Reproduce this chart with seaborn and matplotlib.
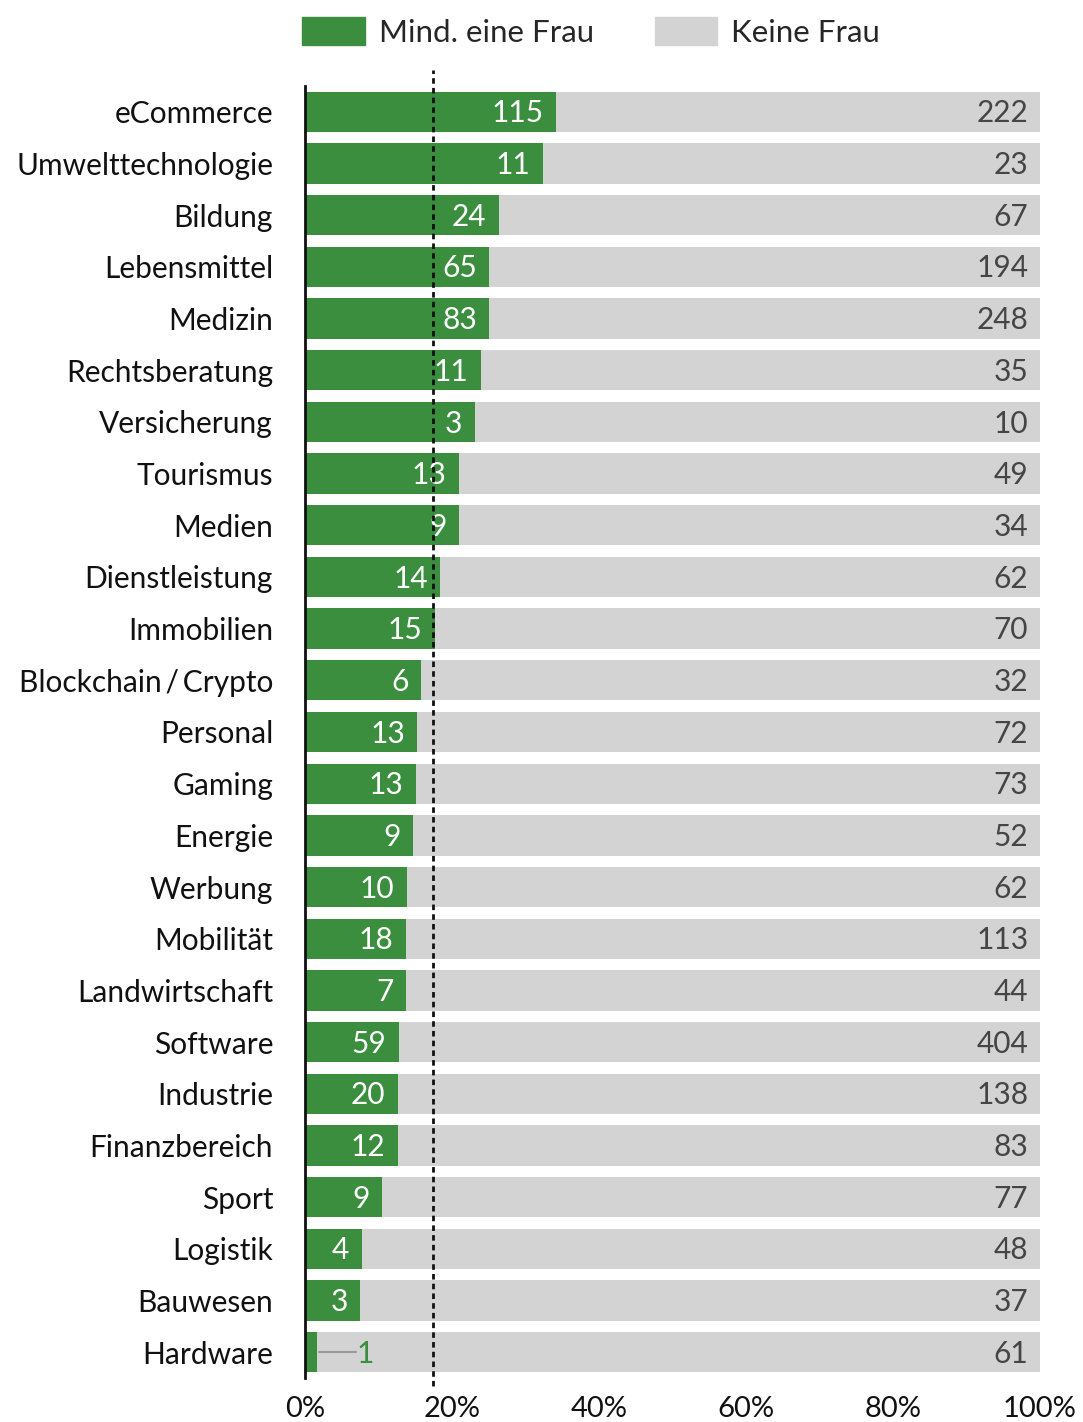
import matplotlib
matplotlib.use("Agg")
import matplotlib.pyplot as plt
import matplotlib.patches as mpatches
import matplotlib.transforms as mtransforms
import numpy as np
import pandas as pd
import seaborn as sns

# Startups per sector: at least one woman among founders vs. none
sectors = ["eCommerce", "Umwelttechnologie", "Bildung", "Lebensmittel", "Medizin",
           "Rechtsberatung", "Versicherung", "Tourismus", "Medien", "Dienstleistung",
           "Immobilien", "Blockchain\u2009/\u2009Crypto", "Personal", "Gaming", "Energie",
           "Werbung", "Mobilität", "Landwirtschaft", "Software", "Industrie",
           "Finanzbereich", "Sport", "Logistik", "Bauwesen", "Hardware"]
mind_eine_frau = [115, 11, 24, 65, 83, 11, 3, 13, 9, 14, 15, 6, 13, 13, 9, 10, 18, 7,
                  59, 20, 12, 9, 4, 3, 1]
keine_frau = [222, 23, 67, 194, 248, 35, 10, 49, 34, 62, 70, 32, 72, 73, 52, 62, 113, 44,
              404, 138, 83, 77, 48, 37, 61]
x_ticks = [0, 20, 40, 60, 80, 100]
x_ticklabels = ["0%", "20%", "40%", "60%", "80%", "100%"]

GREEN = "#3a8e3e"
GREY = "#d3d3d3"
GREY_TEXT = "#454545"

sns.set_theme(style="white")
plt.rcParams["font.family"] = ["Lato", "DejaVu Sans"]

df = pd.DataFrame({"Branche": sectors, "Mind": mind_eine_frau, "Keine": keine_frau})
df["Gesamt"] = df["Mind"] + df["Keine"]
df["Anteil"] = df["Mind"] / df["Gesamt"] * 100
df["Voll"] = 100.0
mean_share = df["Anteil"].mean()

fig = plt.figure(figsize=(10.83, 14.22), dpi=100)
ax = fig.add_axes([305 / 1083, 1 - 1378 / 1422, 735 / 1083, 1292 / 1422])

sns.barplot(data=df, y="Branche", x="Voll", color=GREY, width=0.78, orient="h",
            saturation=1, ax=ax, linewidth=0)
sns.barplot(data=df, y="Branche", x="Anteil", color=GREEN, width=0.78, orient="h",
            saturation=1, ax=ax, linewidth=0)

ax.set_xlim(0, 100)
ax.set_ylim(len(sectors) - 0.5, -0.5)
ax.set_xlabel("")
ax.set_ylabel("")
ax.set_xticks(x_ticks)
ax.set_xticklabels(x_ticklabels)
ax.tick_params(axis="x", length=0, pad=13, labelsize=21, colors="#111111")
ax.tick_params(axis="y", length=0, pad=23, labelsize=21.5, colors="#111111")
for s in ["top", "right", "bottom"]:
    ax.spines[s].set_visible(False)
ax.spines["left"].set_color("#111111")
ax.spines["left"].set_linewidth(2)
ax.spines["left"].set_zorder(5)

# value labels (digits centred on the bar: baseline sits half a digit below centre)
base = 0.205
for i, row in df.iterrows():
    if row["Anteil"] > 5:
        ax.text(row["Anteil"] - 1.7, i + base, f"{row['Mind']}", ha="right",
                va="baseline", color="white", fontsize=21.5, zorder=4)
    else:
        ax.plot([row["Anteil"] + 0.3, row["Anteil"] + 5.3], [i, i], color="#9a9a9a",
                lw=1.5, zorder=4)
        ax.text(row["Anteil"] + 5.4, i + base, f"{row['Mind']}", ha="left",
                va="baseline", color=GREEN, fontsize=21.5, zorder=4)
    ax.text(98.4, i + base, f"{row['Keine']}", ha="right", va="baseline",
            color=GREY_TEXT, fontsize=21.5, zorder=4)

# dashed average line
trans = mtransforms.blended_transform_factory(ax.transData, ax.transAxes)
ax.plot([mean_share, mean_share], [-0.006, 1.0125], transform=trans, color="#111111",
        lw=2, ls=(0, (2, 1.5)), clip_on=False, zorder=6)

# legend
handles = [mpatches.Patch(color=GREEN, label="Mind. eine Frau"),
           mpatches.Patch(color=GREY, label="Keine Frau")]
fig.legend(handles=handles, loc="center left", bbox_to_anchor=(302 / 1083, 1 - 32 / 1422),
           ncol=2, frameon=False, fontsize=22.5, handlelength=2.0, handleheight=1.0,
           handletextpad=0.45, columnspacing=1.95, borderpad=0, borderaxespad=0)

fig.savefig("out.png", dpi=100, facecolor="white")
